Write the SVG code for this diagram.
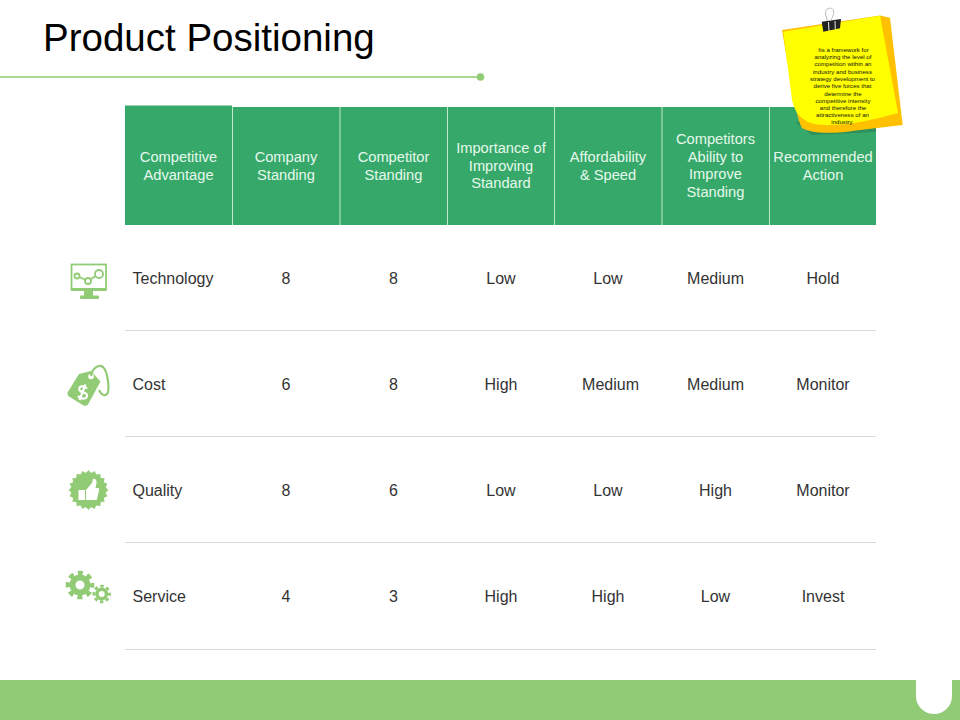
<svg xmlns="http://www.w3.org/2000/svg" width="960" height="720" viewBox="0 0 960 720">
<style>
text{font-family:"Liberation Sans",Arial,sans-serif}
.h{font-size:14.67px;fill:#e6f8ec;text-anchor:middle}
.c{font-size:16px;fill:#333;text-anchor:middle}
.l{font-size:16px;fill:#333}
.n{font-size:6.1px;fill:#111;text-anchor:middle}
.i{fill:#92cb75}
.is{fill:none;stroke:#92cb75}
.r{stroke:#d9d9d9;stroke-width:1}
.s{stroke:#c0e8cc;stroke-width:1}
</style>
<defs><path id="tooth" class="i" d="M88.500 470L91.200 473.200V506.800L88.500 510L85.800 506.800V473.200Z"/></defs>
<rect width="960" height="720" fill="#fff"/>
<text x="43" y="51" fill="#000" style="font-size:38.5px">Product Positioning</text>
<g id="title-rule"><line x1="0" y1="77" x2="480" y2="77" stroke="#8ccb6c" stroke-width="1.400"/><circle cx="480.500" cy="77" r="3.800" fill="#92cb75"/></g>
<g id="footer"><path d="M0 680H916V696A18 18 0 0 0 952 696V680H960V720H0Z" fill="#92cb75"/></g>
<g id="header">
<rect x="125" y="107" width="751" height="118" fill="#36a96a"/>
<rect x="125" y="105.500" width="107" height="2" fill="#36a96a"/>
<line class="s" x1="232.500" y1="106" x2="232.500" y2="225"/>
<line class="s" x1="340" y1="107" x2="340" y2="225"/>
<line class="s" x1="447.500" y1="107" x2="447.500" y2="225"/>
<line class="s" x1="554.500" y1="107" x2="554.500" y2="225"/>
<line class="s" x1="662" y1="107" x2="662" y2="225"/>
<line class="s" x1="769.500" y1="107" x2="769.500" y2="225"/>
<text class="h"><tspan x="178.500" y="162">Competitive</tspan><tspan x="178.500" y="180">Advantage</tspan></text>
<text class="h"><tspan x="286" y="162">Company</tspan><tspan x="286" y="180">Standing</tspan></text>
<text class="h"><tspan x="393.500" y="162">Competitor</tspan><tspan x="393.500" y="180">Standing</tspan></text>
<text class="h"><tspan x="501" y="153">Importance of</tspan><tspan x="501" y="171">Improving</tspan><tspan x="501" y="188">Standard</tspan></text>
<text class="h"><tspan x="608" y="162">Affordability</tspan><tspan x="608" y="180">&amp; Speed</tspan></text>
<text class="h"><tspan x="715.500" y="144">Competitors</tspan><tspan x="715.500" y="162">Ability to</tspan><tspan x="715.500" y="179">Improve</tspan><tspan x="715.500" y="197">Standing</tspan></text>
<text class="h"><tspan x="823" y="162">Recommended</tspan><tspan x="823" y="180">Action</tspan></text>
</g>
<g id="rows">
<line class="r" x1="125" y1="330.500" x2="876" y2="330.500"/>
<line class="r" x1="125" y1="436.500" x2="876" y2="436.500"/>
<line class="r" x1="125" y1="542.500" x2="876" y2="542.500"/>
<line class="r" x1="125" y1="649.500" x2="876" y2="649.500"/>
<text class="l" x="132.500" y="284">Technology</text><text class="c" x="286" y="284">8</text><text class="c" x="393.500" y="284">8</text><text class="c" x="501" y="284">Low</text><text class="c" x="608" y="284">Low</text><text class="c" x="715.500" y="284">Medium</text><text class="c" x="823" y="284">Hold</text>
<text class="l" x="132.500" y="390">Cost</text><text class="c" x="286" y="390">6</text><text class="c" x="393.500" y="390">8</text><text class="c" x="501" y="390">High</text><text class="c" x="610.500" y="390">Medium</text><text class="c" x="715.500" y="390">Medium</text><text class="c" x="823" y="390">Monitor</text>
<text class="l" x="132.500" y="496">Quality</text><text class="c" x="286" y="496">8</text><text class="c" x="393.500" y="496">6</text><text class="c" x="501" y="496">Low</text><text class="c" x="608" y="496">Low</text><text class="c" x="715.500" y="496">High</text><text class="c" x="823" y="496">Monitor</text>
<text class="l" x="132.500" y="602">Service</text><text class="c" x="286" y="602">4</text><text class="c" x="393.500" y="602">3</text><text class="c" x="501" y="602">High</text><text class="c" x="608" y="602">High</text><text class="c" x="715.500" y="602">Low</text><text class="c" x="823" y="602">Invest</text>
</g>
<g id="icon-technology">
<rect class="is" x="71.500" y="264.500" width="34.500" height="25" stroke-width="1.800"/>
<rect class="i" x="71" y="288" width="35.500" height="3"/>
<rect class="i" x="84" y="290" width="9" height="6"/>
<rect class="i" x="80" y="295.500" width="19" height="3.500" rx="1"/>
<g class="is" stroke-width="1.800"><circle cx="77" cy="276" r="2.500"/><circle cx="88" cy="281" r="3"/><circle cx="99" cy="274" r="4"/><path d="M79.300 277L85.200 279.800M90.500 279.300L95.800 276"/></g>
</g>
<g id="icon-cost">
<path class="i" d="M67.500 392.500L79 374L91 371L100.500 381.500L88 404.500Q86 406.500 83.500 405.500L69 396.500Q67 394.500 67.500 392.500Z"/>
<circle cx="91" cy="376.500" r="2.800" fill="#fff"/>
<path class="is" d="M91 376C92 368 99 364 103 367C108 372 110 390 107 394C104 397 101 394 99 390" stroke-width="2.200"/>
<path d="M87 388.500C84 385 78 386 79.500 390C81 393.500 86 391.500 87 395C88 399 81 400 78 396M85.500 384.500L79.500 400" fill="none" stroke="#fff" stroke-width="2.200"/>
</g>
<g id="icon-quality">
<circle class="i" cx="88.500" cy="490" r="17.500"/>
<use href="#tooth"/>
<use href="#tooth" transform="rotate(18 88.500 490)"/>
<use href="#tooth" transform="rotate(36 88.500 490)"/>
<use href="#tooth" transform="rotate(54 88.500 490)"/>
<use href="#tooth" transform="rotate(72 88.500 490)"/>
<use href="#tooth" transform="rotate(90 88.500 490)"/>
<use href="#tooth" transform="rotate(108 88.500 490)"/>
<use href="#tooth" transform="rotate(126 88.500 490)"/>
<use href="#tooth" transform="rotate(144 88.500 490)"/>
<use href="#tooth" transform="rotate(162 88.500 490)"/>
<rect x="78.500" y="490" width="6.500" height="10" fill="#fff"/>
<path d="M86 490L92 483L93 479C95 478 97 480 96.500 483L95.500 488H98C99 488 99.500 489 99 490.500L97 499C96.800 500 96 500 95.500 500H86Z" fill="#fff"/>
</g>
<g id="icon-service">
<circle class="is" cx="80" cy="585" r="7.500" stroke-width="6"/>
<circle class="is" cx="80" cy="585" r="12" stroke-width="4.600" stroke-dasharray="5 4.420" stroke-dashoffset="2.500"/>
<circle class="is" cx="101.700" cy="594" r="4.750" stroke-width="3.500"/>
<circle class="is" cx="101.700" cy="594" r="7.800" stroke-width="2.800" stroke-dasharray="3.400 2.730" stroke-dashoffset="1.700"/>
</g>
<g id="note">
<path d="M795 122H876V132L812 135Z" fill="#2e8f5d"/>
<path d="M782 30L880 15.500L890 17.700L902.700 125L856 130.500C835 134 812 134 802 128C795 115 788 65 782 30Z" fill="#ffc000"/>
<path d="M783.300 31.700L880 15.700L898 113C880 118 860 123 840 124.500C825 125.500 815 125 808 122C799 117 795 112 792 100Z" fill="#ffff00"/>
<text class="n"><tspan x="843.500" y="52">Its a framework for</tspan><tspan x="843" y="59">analyzing the level of</tspan><tspan x="843" y="66">competition within an</tspan><tspan x="842.500" y="73.500">industry and business</tspan><tspan x="842.500" y="81">strategy development to</tspan><tspan x="842.500" y="88">derive five forces that</tspan><tspan x="843" y="95.500">determine the</tspan><tspan x="843" y="102.500">competitive intensity</tspan><tspan x="843" y="109.500">and therefore the</tspan><tspan x="842.500" y="117">attractiveness of an</tspan><tspan x="842" y="124">industry</tspan></text>
<path d="M821.700 21.700L841 19L840 28.300L823.300 31.700Z" fill="#222"/>
<path d="M828.500 22L829 31M835 21L835.300 29.500" stroke="#eee" stroke-width="1" fill="none"/>
<g fill="none" stroke="#bbb" stroke-width="1"><path d="M827.500 21L825.500 14C824.500 8 832 6 833.500 11C834.500 14 832 18 830.500 21"/></g>
</g>
</svg>
